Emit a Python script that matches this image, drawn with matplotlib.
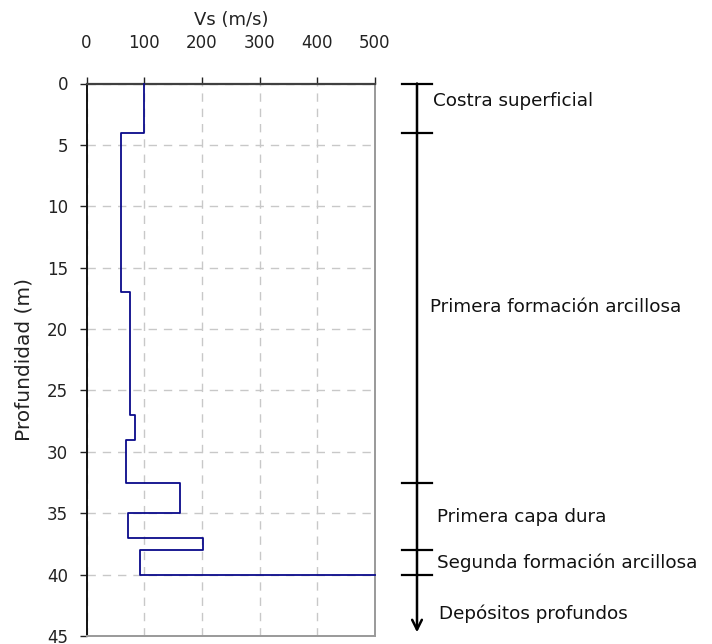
import matplotlib
matplotlib.use("Agg")
import matplotlib.pyplot as plt
import numpy as np

# ---- data ----
layer_top = [0, 4, 17, 27, 29, 32.5, 35, 37, 38, 40]
vs_values = [100, 59, 75, 84, 68, 162, 72, 202, 93, 500]
x_ticks = [0, 100, 200, 300, 400, 500]
y_ticks = [0, 5, 10, 15, 20, 25, 30, 35, 40, 45]
unit_bounds = [0, 4, 32.5, 38, 40]
unit_names = ["Costra superficial", "Primera formación arcillosa",
              "Primera capa dura", "Segunda formación arcillosa",
              "Depósitos profundos"]
unit_label_depth = [1.4, 18.2, 35.3, 39.0, 43.2]

plt.rcParams['font.family'] = ['DejaVu Sans']

W, H = 712, 644
fig = plt.figure(figsize=(W / 100, H / 100), dpi=100)

L, R, T, B = 86.5, 375, 83.5, 636
ax = fig.add_axes([L / W, 1 - B / H, (R - L) / W, (B - T) / H])

# build step path
xs, ys = [], []
for i in range(len(vs_values) - 1):
    xs += [vs_values[i], vs_values[i]]
    ys += [layer_top[i], layer_top[i + 1]]
xs.append(vs_values[-1])
ys.append(layer_top[-1])
ax.plot(xs, ys, color="#0a0a8a", lw=1.3, zorder=3, clip_on=False)

ax.set_xlim(0, 500)
ax.set_ylim(45, 0)
ax.xaxis.tick_top()
ax.xaxis.set_label_position("top")
ax.set_xticks(x_ticks)
ax.set_yticks(y_ticks)
ax.tick_params(axis='x', direction='out', length=5.2, width=1, pad=17.5,
               labelsize=12, colors="#222222")
ax.tick_params(axis='y', direction='out', length=5.4, width=1, pad=8,
               labelsize=12, colors="#222222")
ax.set_xlabel("Vs (m/s)", fontsize=13, labelpad=6.5, color="#222222")
ax.set_ylabel("Profundidad (m)", fontsize=14.5, color="#222222")
ax.yaxis.set_label_coords(-0.185, 0.5)

ax.grid(True, color="#c8c8c8", linestyle=(0, (6, 5)), lw=1)
ax.set_axisbelow(True)
ax.spines['top'].set_color("#404040")
ax.spines['top'].set_linewidth(1.6)
ax.spines['left'].set_color("#111111")
ax.spines['left'].set_linewidth(1.4)
ax.spines['right'].set_color("#999999")
ax.spines['right'].set_linewidth(1.4)
ax.spines['bottom'].set_color("#999999")
ax.spines['bottom'].set_linewidth(1.4)

# ---- annotation column ----
ax2 = fig.add_axes([R / W, 1 - B / H, (W - R) / W, (B - T) / H])
ax2.set_xlim(R, W)
ax2.set_ylim(45, 0)
ax2.axis('off')

xc = 417
ax2.annotate("", xy=(xc, 44.7), xytext=(xc, 0),
             arrowprops=dict(arrowstyle="->,head_length=0.7,head_width=0.35",
                             lw=1.8, color="black", shrinkA=0, shrinkB=0),
             annotation_clip=False)
for d in unit_bounds:
    ax2.plot([xc - 15, xc + 15], [d, d], color="black", lw=1.6, clip_on=False)

text_x = [433, 430, 437, 437, 439]
for name, d, tx in zip(unit_names, unit_label_depth, text_x):
    ax2.text(tx, d, name, fontsize=13.2, va='center', ha='left', color="#111111")

fig.savefig("out.png", dpi=100)
